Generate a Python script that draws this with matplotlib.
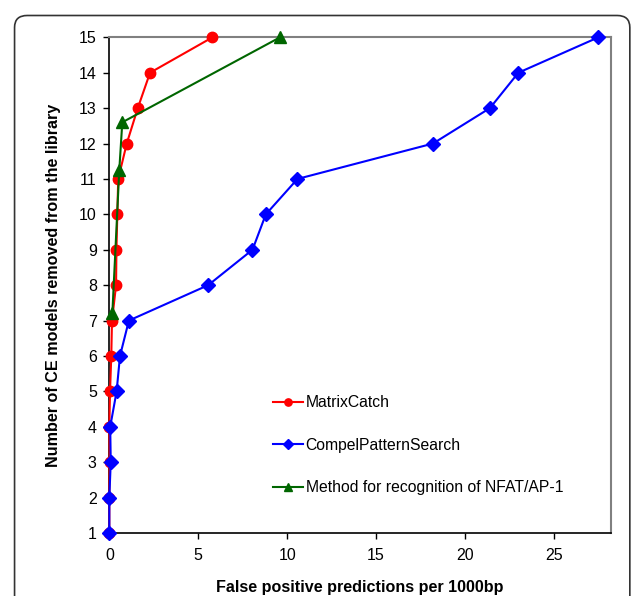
import matplotlib
matplotlib.use("Agg")
import matplotlib.pyplot as plt
from matplotlib.patches import FancyBboxPatch

plt.rcParams['font.family'] = ['Liberation Sans', 'DejaVu Sans']

# number of CE models removed (y) vs false positives per 1000bp (x)
models_removed = list(range(1, 16))
matrixcatch_fp = [0, 0, 0.02, 0, 0.04, 0.11, 0.15, 0.38, 0.4, 0.45, 0.5, 0.98, 1.6, 2.29, 5.8]
compel_fp = [0, 0, 0.08, 0.05, 0.41, 0.6, 1.1, 5.56, 8.05, 8.8, 10.58, 18.2, 21.4, 23.0, 27.5]
nfat_models = [7.2, 11.25, 12.6, 15]
nfat_fp = [0.17, 0.56, 0.73, 9.6]

x_ticks = [0, 5, 10, 15, 20, 25]
y_ticks = list(range(1, 16))

fig = plt.figure(figsize=(6.33, 5.96), dpi=100)
ax = fig.add_axes([0.1727, 0.1057, 0.7923, 0.8317])

# rounded outer frame
frame = FancyBboxPatch((0.023, -0.05), 0.972, 1.024, boxstyle="round,pad=0,rounding_size=0.02",
                       transform=fig.transFigure, fill=False, edgecolor='#333333', linewidth=1.2)
fig.patches.append(frame)

ax.plot(matrixcatch_fp, models_removed, color='#ff0000', marker='o', markersize=7.5,
        linewidth=1.5, label='MatrixCatch', clip_on=False, zorder=3)
ax.plot(compel_fp, models_removed, color='#0000ff', marker='D', markersize=7,
        linewidth=1.5, label='CompelPatternSearch', clip_on=False, zorder=4)
ax.plot(nfat_fp, nfat_models, color='#006600', marker='^', markersize=8,
        linewidth=1.5, label='Method for recognition of NFAT/AP-1', clip_on=False, zorder=5)

ax.set_xlim(0, 28.2)
ax.set_ylim(1, 15)
ax.set_xticks(x_ticks)
ax.set_yticks(y_ticks)
ax.tick_params(labelsize=11.5, direction='out', length=4, width=1)
ax.tick_params(axis='x', pad=7)
ax.tick_params(axis='y', pad=5)

for side in ['top', 'right']:
    ax.spines[side].set_color('#808080')
    ax.spines[side].set_linewidth(1.5)
for side in ['left', 'bottom']:
    ax.spines[side].set_color('black')
    ax.spines[side].set_linewidth(1.2)

ax.set_xlabel('False positive predictions per 1000bp', fontsize=11.6, fontweight='bold', labelpad=12)
ax.set_ylabel('Number of CE models removed from the library', fontsize=11.6, fontweight='bold', labelpad=13)

ax.legend(loc='upper left', bbox_to_anchor=(272.7 / 633, 1 - 395 / 596), bbox_transform=fig.transFigure,
          frameon=False, fontsize=11.3, handlelength=1.95, handletextpad=0.15, labelspacing=1.76,
          borderpad=0, borderaxespad=0, markerscale=0.7)

fig.savefig('out.png', dpi=100)
